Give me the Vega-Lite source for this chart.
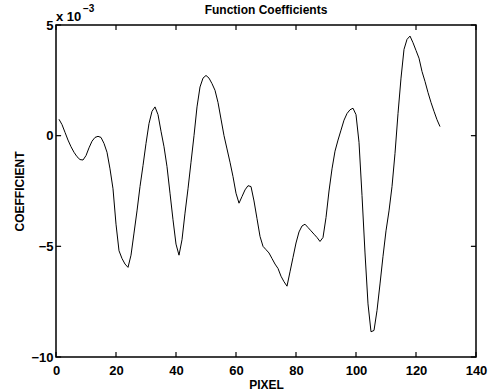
{
  "$schema": "https://vega.github.io/schema/vega-lite/v6.json",
  "width": 420,
  "height": 332,
  "autosize": {"type": "none"},
  "padding": {"left": 56, "top": 25, "right": 18, "bottom": 34},
  "background": "white",
  "title": {"text": "Function Coefficients", "font": "Liberation Sans", "fontSize": 12, "fontWeight": "bold", "color": "black", "anchor": "middle", "offset": 0, "dy": 13},
  "config": {
    "view": {"stroke": "black", "strokeWidth": 1.5},
    "axis": {"domain": false, "labelColor": "black", "titleColor": "black", "labelFont": "Liberation Sans", "titleFont": "Liberation Sans", "labelFontWeight": "bold", "titleFontWeight": "bold", "labelFontSize": 13, "titleFontSize": 12, "grid": false, "labelFlush": false, "labelOverlap": false, "labelBound": false}
  },
  "datasets": {
    "xticks": [{"v": 0}, {"v": 20}, {"v": 40}, {"v": 60}, {"v": 80}, {"v": 100}, {"v": 120}, {"v": 140}],
    "yticks": [{"v": -10}, {"v": -5}, {"v": 0}, {"v": 5}]
  },
  "data": {"values": [
    {"pixel": 1, "coef": 0.74}, {"pixel": 2, "coef": 0.5}, {"pixel": 3, "coef": 0.15}, {"pixel": 4, "coef": -0.2},
    {"pixel": 5, "coef": -0.5}, {"pixel": 6, "coef": -0.75}, {"pixel": 7, "coef": -0.95}, {"pixel": 8, "coef": -1.08},
    {"pixel": 9, "coef": -1.1}, {"pixel": 10, "coef": -0.9}, {"pixel": 11, "coef": -0.55}, {"pixel": 12, "coef": -0.25},
    {"pixel": 13, "coef": -0.08}, {"pixel": 14, "coef": -0.03}, {"pixel": 15, "coef": -0.08}, {"pixel": 16, "coef": -0.35},
    {"pixel": 17, "coef": -0.75}, {"pixel": 18, "coef": -1.5}, {"pixel": 19, "coef": -2.4}, {"pixel": 20, "coef": -4.0},
    {"pixel": 21, "coef": -5.2}, {"pixel": 22, "coef": -5.55}, {"pixel": 23, "coef": -5.8}, {"pixel": 24, "coef": -5.95},
    {"pixel": 25, "coef": -5.4}, {"pixel": 26, "coef": -4.4}, {"pixel": 27, "coef": -3.4}, {"pixel": 28, "coef": -2.3},
    {"pixel": 29, "coef": -1.35}, {"pixel": 30, "coef": -0.35}, {"pixel": 31, "coef": 0.55}, {"pixel": 32, "coef": 1.1},
    {"pixel": 33, "coef": 1.3}, {"pixel": 34, "coef": 0.95}, {"pixel": 35, "coef": 0.2}, {"pixel": 36, "coef": -0.5},
    {"pixel": 37, "coef": -1.4}, {"pixel": 38, "coef": -2.6}, {"pixel": 39, "coef": -3.8}, {"pixel": 40, "coef": -4.9},
    {"pixel": 41, "coef": -5.4}, {"pixel": 42, "coef": -4.7}, {"pixel": 43, "coef": -3.5}, {"pixel": 44, "coef": -2.4},
    {"pixel": 45, "coef": -1.2}, {"pixel": 46, "coef": 0.0}, {"pixel": 47, "coef": 1.3}, {"pixel": 48, "coef": 2.2},
    {"pixel": 49, "coef": 2.6}, {"pixel": 50, "coef": 2.72}, {"pixel": 51, "coef": 2.6}, {"pixel": 52, "coef": 2.35},
    {"pixel": 53, "coef": 2.05}, {"pixel": 54, "coef": 1.5}, {"pixel": 55, "coef": 0.75}, {"pixel": 56, "coef": 0.0},
    {"pixel": 57, "coef": -0.6}, {"pixel": 58, "coef": -1.2}, {"pixel": 59, "coef": -1.85}, {"pixel": 60, "coef": -2.6},
    {"pixel": 61, "coef": -3.05}, {"pixel": 62, "coef": -2.75}, {"pixel": 63, "coef": -2.45}, {"pixel": 64, "coef": -2.26},
    {"pixel": 65, "coef": -2.3}, {"pixel": 66, "coef": -2.95}, {"pixel": 67, "coef": -3.75}, {"pixel": 68, "coef": -4.55},
    {"pixel": 69, "coef": -5.0}, {"pixel": 70, "coef": -5.15}, {"pixel": 71, "coef": -5.3}, {"pixel": 72, "coef": -5.55},
    {"pixel": 73, "coef": -5.8}, {"pixel": 74, "coef": -6.0}, {"pixel": 75, "coef": -6.35}, {"pixel": 76, "coef": -6.6},
    {"pixel": 77, "coef": -6.8}, {"pixel": 78, "coef": -6.15}, {"pixel": 79, "coef": -5.5}, {"pixel": 80, "coef": -4.85},
    {"pixel": 81, "coef": -4.35}, {"pixel": 82, "coef": -4.08}, {"pixel": 83, "coef": -4.0}, {"pixel": 84, "coef": -4.15},
    {"pixel": 85, "coef": -4.3}, {"pixel": 86, "coef": -4.45}, {"pixel": 87, "coef": -4.6}, {"pixel": 88, "coef": -4.78},
    {"pixel": 89, "coef": -4.6}, {"pixel": 90, "coef": -3.7}, {"pixel": 91, "coef": -2.5}, {"pixel": 92, "coef": -1.5},
    {"pixel": 93, "coef": -0.7}, {"pixel": 94, "coef": -0.2}, {"pixel": 95, "coef": 0.25}, {"pixel": 96, "coef": 0.7},
    {"pixel": 97, "coef": 1.0}, {"pixel": 98, "coef": 1.17}, {"pixel": 99, "coef": 1.24}, {"pixel": 100, "coef": 0.95},
    {"pixel": 101, "coef": -0.3}, {"pixel": 102, "coef": -2.7}, {"pixel": 103, "coef": -5.3}, {"pixel": 104, "coef": -7.6},
    {"pixel": 105, "coef": -8.86}, {"pixel": 106, "coef": -8.8}, {"pixel": 107, "coef": -7.9}, {"pixel": 108, "coef": -6.7},
    {"pixel": 109, "coef": -5.45}, {"pixel": 110, "coef": -4.3}, {"pixel": 111, "coef": -3.4}, {"pixel": 112, "coef": -2.3},
    {"pixel": 113, "coef": -0.8}, {"pixel": 114, "coef": 1.0}, {"pixel": 115, "coef": 2.6}, {"pixel": 116, "coef": 3.9},
    {"pixel": 117, "coef": 4.35}, {"pixel": 118, "coef": 4.5}, {"pixel": 119, "coef": 4.2}, {"pixel": 120, "coef": 3.85},
    {"pixel": 121, "coef": 3.5}, {"pixel": 122, "coef": 2.9}, {"pixel": 123, "coef": 2.45}, {"pixel": 124, "coef": 1.95},
    {"pixel": 125, "coef": 1.5}, {"pixel": 126, "coef": 1.1}, {"pixel": 127, "coef": 0.72}, {"pixel": 128, "coef": 0.41}
  ]},
  "layer": [
    {
      "mark": {"type": "line", "color": "black", "strokeWidth": 1},
      "encoding": {
        "x": {"field": "pixel", "type": "quantitative", "scale": {"domain": [0, 140], "nice": false, "zero": false},
              "axis": {"orient": "bottom", "values": [0, 20, 40, 60, 80, 100, 120, 140], "ticks": false, "title": "PIXEL", "labelPadding": 7, "titlePadding": 2}},
        "y": {"field": "coef", "type": "quantitative", "scale": {"domain": [-10, 5], "nice": false, "zero": false},
              "axis": {"orient": "left", "values": [-10, -5, 0, 5], "ticks": false, "title": "COEFFICIENT", "labelPadding": 3, "titlePadding": 4}}
      }
    },
    {
      "data": {"name": "xticks"},
      "mark": {"type": "rule", "color": "black", "strokeWidth": 1.2},
      "encoding": {"x": {"field": "v", "type": "quantitative", "axis": null}, "y": {"datum": -10, "type": "quantitative", "axis": null}, "y2": {"datum": -9.77}}
    },
    {
      "data": {"name": "xticks"},
      "mark": {"type": "rule", "color": "black", "strokeWidth": 1.2},
      "encoding": {"x": {"field": "v", "type": "quantitative", "axis": null}, "y": {"datum": 5, "type": "quantitative", "axis": null}, "y2": {"datum": 4.77}}
    },
    {
      "data": {"name": "yticks"},
      "mark": {"type": "rule", "color": "black", "strokeWidth": 1.2},
      "encoding": {"y": {"field": "v", "type": "quantitative", "axis": null}, "x": {"datum": 0, "type": "quantitative", "axis": null}, "x2": {"datum": 1.7}}
    },
    {
      "data": {"name": "yticks"},
      "mark": {"type": "rule", "color": "black", "strokeWidth": 1.2},
      "encoding": {"y": {"field": "v", "type": "quantitative", "axis": null}, "x": {"datum": 140, "type": "quantitative", "axis": null}, "x2": {"datum": 138.3}}
    },
    {
      "data": {"values": [{"label": "x 10"}]},
      "mark": {"type": "text", "text": "x 10", "font": "Liberation Sans", "fontWeight": "bold", "fontSize": 13, "align": "left", "baseline": "alphabetic", "dy": -4, "color": "black"},
      "encoding": {"x": {"datum": 0, "type": "quantitative", "axis": null}, "y": {"datum": 5, "type": "quantitative", "axis": null}}
    },
    {
      "data": {"values": [{"label": "−3"}]},
      "mark": {"type": "text", "text": "−3", "font": "Liberation Sans", "fontWeight": "bold", "fontSize": 10, "align": "left", "baseline": "alphabetic", "dx": 27, "dy": -13, "color": "black"},
      "encoding": {"x": {"datum": 0, "type": "quantitative", "axis": null}, "y": {"datum": 5, "type": "quantitative", "axis": null}}
    }
  ],
  "resolve": {"axis": {"x": "independent", "y": "independent"}}
}
